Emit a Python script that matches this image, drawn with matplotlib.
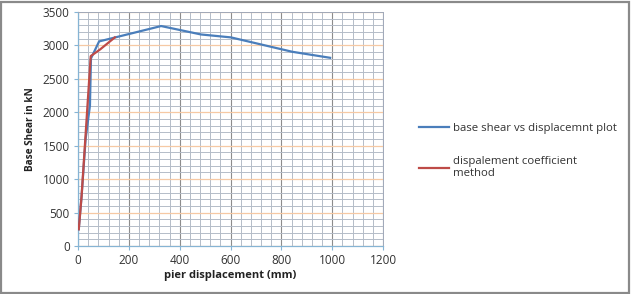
import matplotlib
matplotlib.use("Agg")
import matplotlib.pyplot as plt
from matplotlib.ticker import MultipleLocator
from matplotlib.patches import Rectangle

blue_x = [3, 14, 30, 47, 51, 83, 327, 484, 602, 843, 992]
blue_y = [250, 740, 1600, 2100, 2805, 3060, 3290, 3164, 3120, 2905, 2815]
red_x = [3, 14, 50, 87, 145]
red_y = [250, 740, 2840, 2940, 3120]

blue_label = "base shear vs displacemnt plot"
red_label = "dispalement coefficient\nmethod"
xlabel = "pier displacement (mm)"
ylabel = "Base Shear in kN"

plt.rcParams['font.family'] = ['Open Sans', 'DejaVu Sans']

fig = plt.figure(figsize=(6.31, 2.94), dpi=100)
ax = fig.add_axes([78/631, 1-246/294, (383-78)/631, (246-12)/294])

ax.set_xlim(0, 1200)
ax.set_ylim(0, 3500)
ax.xaxis.set_major_locator(MultipleLocator(200))
ax.xaxis.set_minor_locator(MultipleLocator(40))
ax.yaxis.set_major_locator(MultipleLocator(500))
ax.yaxis.set_minor_locator(MultipleLocator(100))

ax.grid(which='minor', axis='both', color='#b4bcc8', lw=0.7)
ax.grid(which='major', axis='x', color='#8c8c8c', lw=0.8)
ax.grid(which='major', axis='y', color='#f6c9a4', lw=0.9)
ax.set_axisbelow(True)

ax.plot(blue_x, blue_y, color='#4a7ebb', lw=1.6, label=blue_label, zorder=3)
ax.plot(red_x, red_y, color='#be4b48', lw=1.6, label=red_label, zorder=4)

for s in ['top', 'right']:
    ax.spines[s].set_color('#a0a8b8')
    ax.spines[s].set_linewidth(0.7)
for s in ['left', 'bottom']:
    ax.spines[s].set_color('#86b4d4')
    ax.spines[s].set_linewidth(0.9)

ax.tick_params(which='major', labelsize=8.5, length=3, color='#86b4d4', pad=3, labelcolor='#333333')
ax.tick_params(which='minor', length=0)

ax.set_xlabel(xlabel, fontsize=8, fontweight='bold', labelpad=2, color='#222222')
ax.set_ylabel(ylabel, fontsize=7.2, fontweight='bold', labelpad=5, color='#222222')

leg = ax.legend(loc='center left', bbox_to_anchor=(1.085, 0.405), frameon=False,
                fontsize=8.2, handlelength=2.6, handletextpad=0.4,
                labelspacing=1.9, labelcolor='#333333')

fig.patches.append(Rectangle((0.002, 0.004), 0.995, 0.99, transform=fig.transFigure,
                             fill=False, edgecolor='#8a8a8a', lw=1.6))

fig.savefig("out.png", dpi=100)
